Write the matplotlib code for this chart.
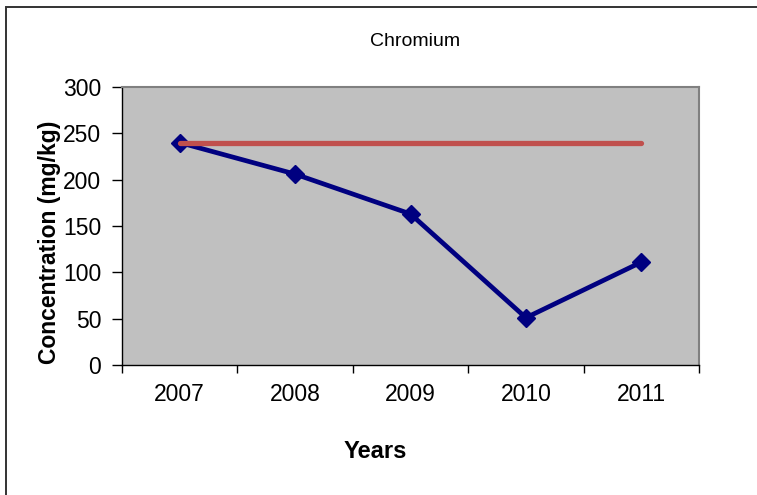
import numpy as np
import matplotlib.pyplot as plt
from matplotlib.patches import Rectangle

plt.rcParams['font.family'] = ['Liberation Sans', 'DejaVu Sans']

years = ['2007', '2008', '2009', '2010', '2011']
chromium = [240, 206, 163, 51, 111]
limit = [240, 240, 240, 240, 240]

fig = plt.figure(figsize=(7.57, 4.95), dpi=100)

# chart frame
fig.patches.append(Rectangle((6 / 757, -0.1), 1.2, 1 - 7 / 495 + 0.1,
                             transform=fig.transFigure, fill=False,
                             edgecolor='#333333', linewidth=1.4))

ax = fig.add_axes([122 / 757, 1 - 365 / 495, 577 / 757, 278 / 495])
ax.set_facecolor('#C0C0C0')

x = np.arange(len(years))
ax.plot(x, chromium, color='#000080', linewidth=3.4, marker='D',
        markersize=9.5, zorder=3)
ax.plot(x, limit, color='#C0504D', linewidth=3.8, zorder=4,
        solid_capstyle='round')

ax.set_xlim(-0.5, len(years) - 0.5)
ax.set_ylim(0, 300)
ax.set_yticks(np.arange(0, 301, 50))

# category ticks sit on the boundaries, labels in the middle
ax.set_xticks(np.arange(-0.5, len(years), 1.0))
ax.set_xticklabels([])
ax.set_xticks(x, minor=True)
ax.set_xticklabels(years, minor=True)
ax.tick_params(axis='x', which='major', direction='out', length=6,
               width=1, color='black')
ax.tick_params(axis='x', which='minor', length=0, pad=13, labelsize=16.5)
ax.tick_params(axis='y', direction='out', length=7, width=1,
               labelsize=16.5, pad=8)

for side in ['top', 'right']:
    ax.spines[side].set_color('#808080')
    ax.spines[side].set_linewidth(1.5)
for side in ['left', 'bottom']:
    ax.spines[side].set_color('black')
    ax.spines[side].set_linewidth(1)

fig.text(415 / 757, 1 - 42 / 495, 'Chromium', fontsize=14,
         ha='center', va='center')
ax.set_xlabel('Years', fontsize=17, fontweight='bold')
ax.xaxis.set_label_coords(0.4385, -0.27)
ax.set_ylabel('Concentration (mg/kg)', fontsize=16.5, fontweight='bold')
ax.yaxis.set_label_coords(-0.105, 0.44)

fig.savefig('out.png', dpi=100)
